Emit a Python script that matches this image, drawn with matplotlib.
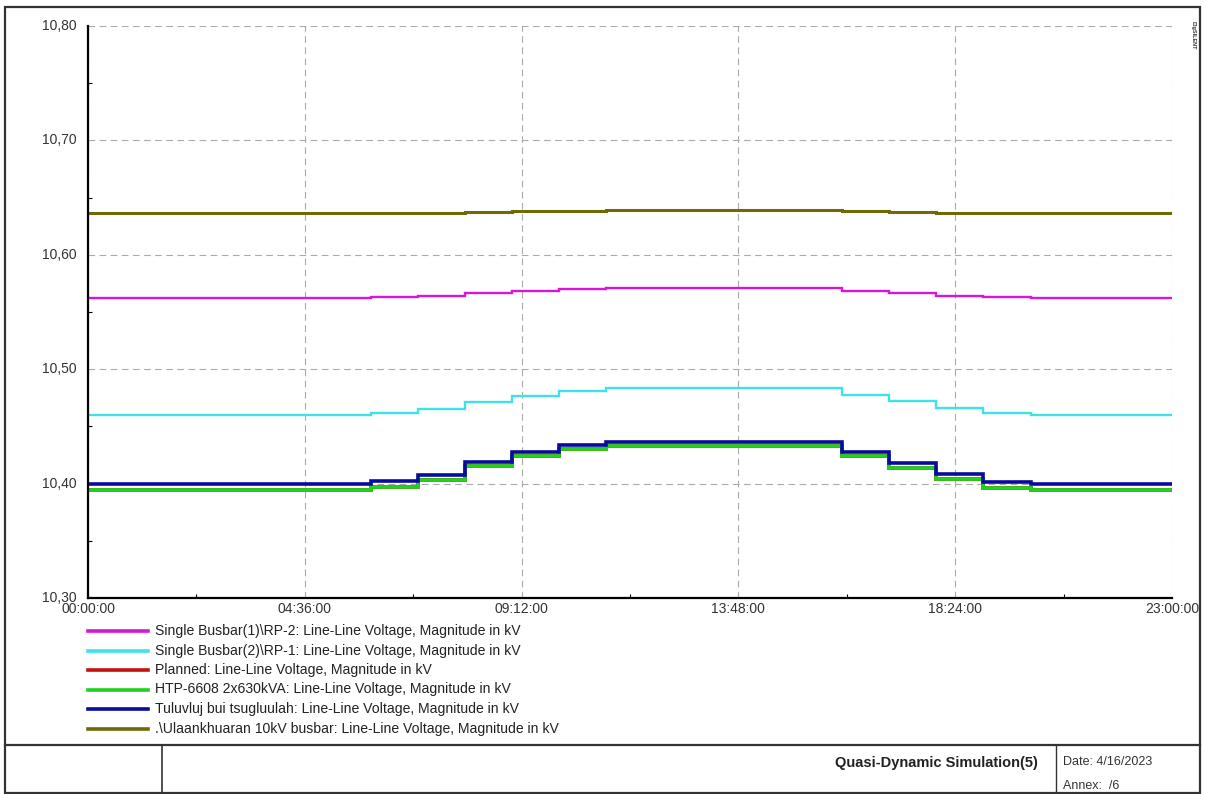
import matplotlib
matplotlib.use("Agg")
import matplotlib.pyplot as plt
from matplotlib.lines import Line2D
from matplotlib.patches import Rectangle
import numpy as np

plt.rcParams['font.family'] = ['Liberation Sans', 'DejaVu Sans']

# hourly step values (start of each hour 0..22), held until 23:00
hours = list(range(24))
magenta = [10.5622]*6 + [10.5628, 10.5640, 10.5663, 10.5687, 10.5700] + [10.5710]*5 + [10.5687, 10.5663, 10.5640, 10.5628] + [10.5622]*3
cyan = [10.4600]*6 + [10.4620, 10.4650, 10.4716, 10.4770, 10.4810] + [10.4836]*5 + [10.4775, 10.4718, 10.4662, 10.4615] + [10.4600]*3
green = [10.3940]*6 + [10.3968, 10.4031, 10.4157, 10.4244, 10.4300] + [10.4330]*5 + [10.4244, 10.4140, 10.4040, 10.3965] + [10.3940]*3
red = list(green)
blue = [10.3996]*6 + [10.4023, 10.4075, 10.4190, 10.4280, 10.4337] + [10.4360]*5 + [10.4274, 10.4180, 10.4080, 10.4017] + [10.3995]*3
olive = [10.6363]*7 + [10.6369, 10.6375, 10.6381, 10.6386] + [10.6390]*5 + [10.6385, 10.6377, 10.6365, 10.6363] + [10.6363]*3

labels = [
    "Single Busbar(1)\\RP-2: Line-Line Voltage, Magnitude in kV",
    "Single Busbar(2)\\RP-1: Line-Line Voltage, Magnitude in kV",
    "Planned: Line-Line Voltage, Magnitude in kV",
    "HTP-6608 2x630kVA: Line-Line Voltage, Magnitude in kV",
    "Tuluvluj bui tsugluulah: Line-Line Voltage, Magnitude in kV",
    ".\\Ulaankhuaran 10kV busbar: Line-Line Voltage, Magnitude in kV",
]
series = [magenta, cyan, red, green, blue, olive]
colors = ["#D815D8", "#3EE3E8", "#C81010", "#1ED21E", "#0A0AA0", "#6E6A05"]
widths = [1.7, 1.7, 2.6, 2.6, 2.6, 2.2]

xticks = [0, 4.6, 9.2, 13.8, 18.4, 23]
xticklabels = ["00:00:00", "04:36:00", "09:12:00", "13:48:00", "18:24:00", "23:00:00"]
yticks = [10.30, 10.40, 10.50, 10.60, 10.70, 10.80]
yticklabels = ["10,30", "10,40", "10,50", "10,60", "10,70", "10,80"]

W, H = 1205, 794
fig = plt.figure(figsize=(W/100, H/100), dpi=100)

def fx(px):
    return px / W

def fy(py):
    return 1 - py / H

ax = fig.add_axes([fx(88), fy(598), fx(1172) - fx(88), fy(26) - fy(598)])
for vals, c, lw in zip(series, colors, widths):
    ax.step(hours, vals + [vals[-1]], where='post', color=c, lw=lw, solid_joinstyle='miter')

ax.set_xlim(0, 23)
ax.set_ylim(10.30, 10.80)
ax.set_xticks(xticks)
ax.set_xticklabels(xticklabels)
ax.set_yticks(yticks)
ax.set_yticklabels(yticklabels)
ax.set_xticks([2.3, 6.9, 11.5, 16.1, 20.7], minor=True)
ax.set_yticks([10.35, 10.45, 10.55, 10.65, 10.75], minor=True)
ax.tick_params(axis='both', which='major', length=0, labelsize=10, labelcolor='#333333')
ax.tick_params(axis='both', which='minor', length=3, direction='in', width=0.8)
ax.tick_params(axis='x', pad=3)
ax.tick_params(axis='y', pad=8)
for t in ax.get_yticklabels():
    t.set_verticalalignment('center')
ax.grid(True, which='major', color='#AAAAAA', ls=(0, (6, 4)), lw=0.8)
ax.spines['top'].set_visible(False)
ax.spines['right'].set_visible(False)
ax.spines['left'].set_linewidth(1.6)
ax.spines['bottom'].set_linewidth(1.6)
ax.set_axisbelow(True)

# legend
y0 = 631
for i, (lab, c, lw) in enumerate(zip(labels, colors, widths)):
    yy = fy(y0 + i * 19.5)
    fig.add_artist(Line2D([fx(88), fx(148)], [yy, yy], color=c, lw=2.6, transform=fig.transFigure))
    fig.text(fx(155), yy, lab, fontsize=10.1, va='center', ha='left', color='#222222')

# outer frame and title block
fig.add_artist(Rectangle((fx(5), fy(793)), fx(1200) - fx(5), fy(7) - fy(793), fill=False,
                         lw=1.6, ec='#333333', transform=fig.transFigure))
fig.add_artist(Line2D([fx(5), fx(1200)], [fy(745), fy(745)], color='#333333', lw=1.6, transform=fig.transFigure))
fig.add_artist(Line2D([fx(162), fx(162)], [fy(745), fy(793)], color='#333333', lw=1.2, transform=fig.transFigure))
fig.add_artist(Line2D([fx(1056), fx(1056)], [fy(745), fy(793)], color='#333333', lw=1.0, transform=fig.transFigure))
fig.text(fx(1038), fy(763), "Quasi-Dynamic Simulation(5)", fontsize=10.5, fontweight='bold',
         ha='right', va='center', color='#222222')
fig.text(fx(1063), fy(762), "Date: 4/16/2023", fontsize=9, ha='left', va='center', color='#333333')
fig.text(fx(1063), fy(786), "Annex:  /6", fontsize=9, ha='left', va='center', color='#333333')
fig.text(fx(1193), fy(35), "DIgSILENT", fontsize=4, rotation=270, ha='center', va='center',
         fontweight='bold', color='#333333')

fig.savefig("out.png", dpi=100)
